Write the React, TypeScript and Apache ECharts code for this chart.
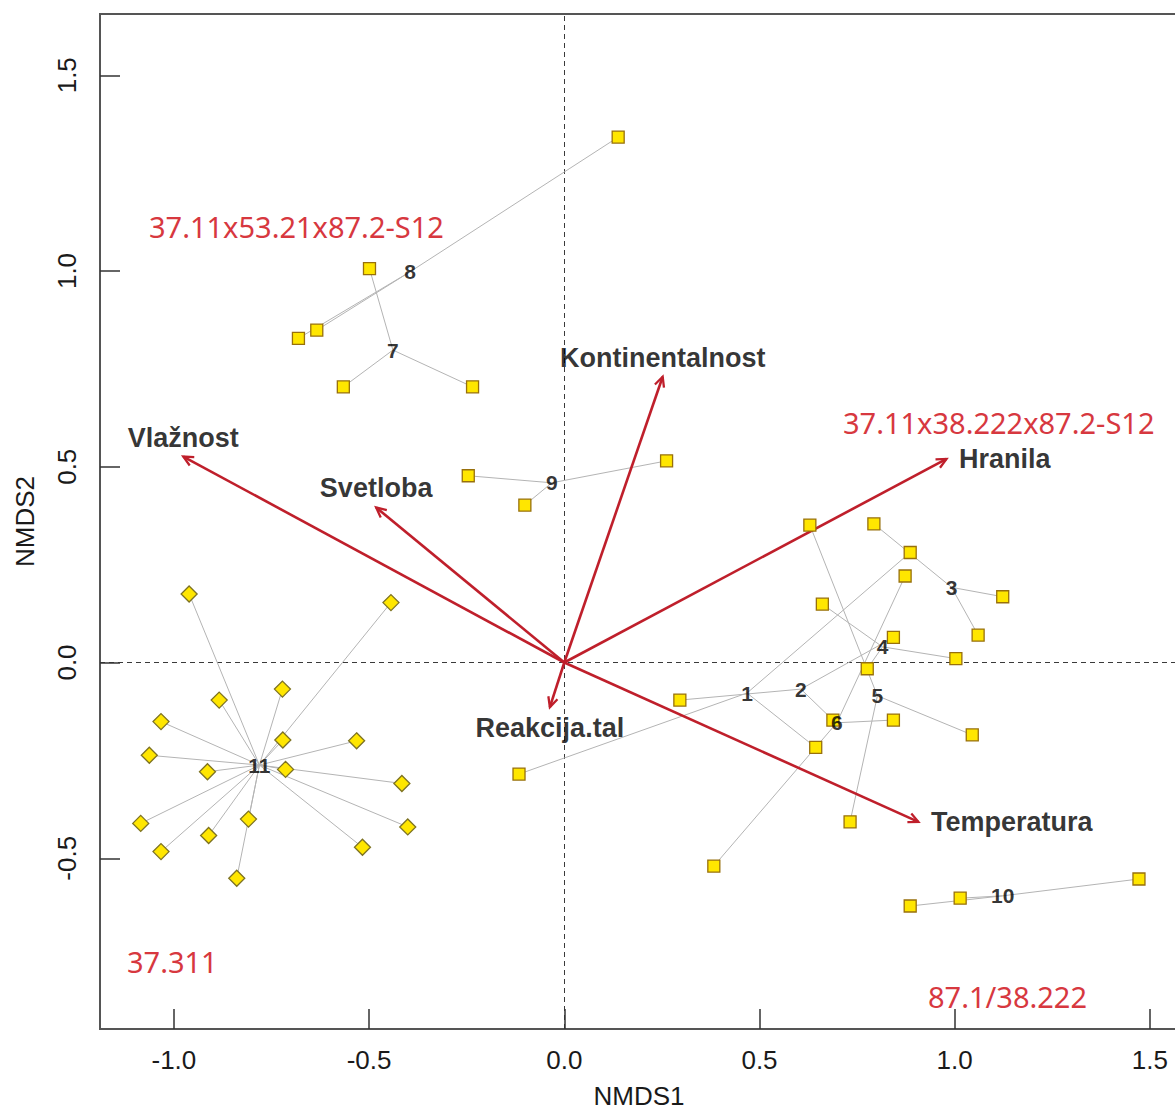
import React, { useEffect, useRef } from "react";
import * as echarts from "echarts";

// ---- data ----
const xTicks = [-1.0, -0.5, 0.0, 0.5, 1.0, 1.5];
const yTicks = [-0.5, 0.0, 0.5, 1.0, 1.5];

// group centroids (ordispider labels)
const groupNames = ["1", "2", "3", "4", "5", "6", "7", "8", "9", "10", "11"];
const centroidX = [0.468, 0.606, 0.992, 0.815, 0.802, 0.698, -0.439, -0.395, -0.032, 1.123, -0.781];
const centroidY = [-0.078, -0.068, 0.192, 0.04, -0.085, -0.154, 0.798, 0.998, 0.459, -0.596, -0.262];

// sites drawn as squares (group index into groupNames)
const squareGroup = [0, 0, 0, 1, 1, 1, 2, 2, 2, 3, 3, 3, 4, 4, 4, 5, 5, 5, 6, 6, 6, 7, 7, 7, 8, 8, 8, 9, 9, 9];
const squareX = [
  0.886, -0.116, 0.644,
  0.296, 0.688, 0.843,
  0.793, 1.123, 1.06,
  0.661, 1.003, 0.776,
  0.629, 1.045, 0.732,
  0.873, 0.843, 0.383,
  -0.499, -0.566, -0.235,
  0.138, -0.634, -0.681,
  -0.246, -0.101, 0.262,
  0.886, 1.014, 1.472,
];
const squareY = [
  0.281, -0.285, -0.217,
  -0.096, -0.147, 0.064,
  0.354, 0.168, 0.07,
  0.149, 0.01, -0.016,
  0.351, -0.185, -0.407,
  0.221, -0.147, -0.52,
  1.006, 0.704, 0.704,
  1.342, 0.849, 0.828,
  0.477, 0.402, 0.515,
  -0.622, -0.602, -0.553,
];

// sites drawn as diamonds (all group "11")
const diamondGroup = 10;
const diamondX = [
  -0.961, -0.444, -0.722, -0.884, -1.033, -0.721, -0.532, -1.063, -0.914,
  -0.714, -0.416, -1.085, -0.809, -0.911, -0.401, -1.033, -0.517, -0.839,
];
const diamondY = [
  0.175, 0.153, -0.068, -0.096, -0.151, -0.198, -0.2, -0.237, -0.279,
  -0.273, -0.309, -0.411, -0.4, -0.442, -0.42, -0.483, -0.472, -0.551,
];

// environmental vectors (envfit)
const envNames = ["Vlažnost", "Svetloba", "Kontinentalnost", "Hranila", "Temperatura", "Reakcija.tal"];
const envX = [-0.976, -0.482, 0.252, 0.979, 0.907, -0.037];
const envY = [0.526, 0.396, 0.73, 0.52, -0.407, -0.114];
const envLabelSide = ["top", "top", "top", "right", "right", "bottom"];

// red annotations
const annotations = ["37.11x53.21x87.2-S12", "37.11x38.222x87.2-S12", "37.311", "87.1/38.222"];

// ---- styles ----
const ARROW = "#bf1f2b";
const RED_TXT = "#d7383f";
const AX_FONT = "'Liberation Sans', Arial, sans-serif";

export default function App() {
  const ref = useRef<HTMLDivElement>(null);

  useEffect(() => {
    if (!ref.current) return;
    const chart = echarts.init(ref.current, undefined, { renderer: "svg" });

    const spider: any[] = [];
    squareX.forEach((x, i) => {
      const g = squareGroup[i];
      spider.push({ coords: [[centroidX[g], centroidY[g]], [x, squareY[i]]] });
    });
    diamondX.forEach((x, i) => {
      spider.push({ coords: [[centroidX[diamondGroup], centroidY[diamondGroup]], [x, diamondY[i]]] });
    });

    const labelDist: Record<string, number> = { top: 5, bottom: 7, right: 12 };

    const annoStyle = { fill: RED_TXT, fontSize: 29, fontFamily: "'Noto Sans', sans-serif", verticalAlign: "middle", align: "left" };

    const option: any = {
      animation: false,
      backgroundColor: "#ffffff",
      grid: {
        left: 100,
        top: 14,
        right: -3,
        bottom: 81,
        show: true,
        containLabel: false,
        outerBoundsMode: "none",
        borderColor: "#555",
        borderWidth: 2,
        backgroundColor: "transparent",
      },
      xAxis: {
        type: "value",
        min: -1.18929,
        max: 1.57198,
        axisLine: { show: false, onZero: false },
        axisTick: {
          show: true,
          inside: true,
          length: 20,
          customValues: xTicks,
          lineStyle: { color: "#333", width: 1.5 },
        },
        axisLabel: {
          customValues: xTicks,
          formatter: (v: number) => v.toFixed(1),
          fontSize: 26,
          color: "#1a1a1a",
          fontFamily: AX_FONT,
          margin: 18,
        },
        splitLine: { show: false },
        name: "NMDS1",
        nameLocation: "middle",
        nameGap: 54,
        nameTextStyle: { fontSize: 26, color: "#1a1a1a", fontFamily: AX_FONT },
      },
      yAxis: {
        type: "value",
        min: -0.93614,
        max: 1.65645,
        axisLine: { show: false, onZero: false },
        axisTick: {
          show: true,
          inside: true,
          length: 20,
          customValues: yTicks,
          lineStyle: { color: "#333", width: 1.5 },
        },
        axisLabel: {
          customValues: yTicks,
          formatter: (v: number) => v.toFixed(1),
          fontSize: 26,
          color: "#1a1a1a",
          fontFamily: AX_FONT,
          rotate: 90,
          margin: 20,
        },
        splitLine: { show: false },
        name: "NMDS2",
        nameLocation: "middle",
        nameGap: 62,
        nameTextStyle: { fontSize: 26, color: "#1a1a1a", fontFamily: AX_FONT },
      },
      series: [
        {
          type: "lines",
          coordinateSystem: "cartesian2d",
          z: 1,
          silent: true,
          lineStyle: { color: "#b4b4b4", width: 1, opacity: 1 },
          data: spider,
          markLine: {
            silent: true,
            z: 0,
            symbol: ["none", "none"],
            label: { show: false },
            lineStyle: { color: "#3a3a3a", width: 1, type: [5, 4] },
            data: [{ xAxis: 0 }, { yAxis: 0 }],
          },
        },
        {
          type: "custom",
          z: 2,
          silent: true,
          data: envX.map((x, i) => [x, envY[i]]),
          renderItem: (_p: any, api: any) => {
            const p0 = api.coord([0, 0]);
            const p1 = api.coord([api.value(0), api.value(1)]);
            const ang = Math.atan2(p1[1] - p0[1], p1[0] - p0[0]);
            const L = 11;
            const a = Math.PI / 7;
            const h1 = [p1[0] - L * Math.cos(ang - a), p1[1] - L * Math.sin(ang - a)];
            const h2 = [p1[0] - L * Math.cos(ang + a), p1[1] - L * Math.sin(ang + a)];
            return {
              type: "group",
              children: [
                {
                  type: "line",
                  shape: { x1: p0[0], y1: p0[1], x2: p1[0], y2: p1[1] },
                  style: { stroke: ARROW, lineWidth: 2.6 },
                },
                {
                  type: "polyline",
                  shape: { points: [h1, p1, h2] },
                  style: { stroke: ARROW, lineWidth: 2.3, fill: null },
                },
              ],
            };
          },
        },
        {
          type: "scatter",
          z: 3,
          silent: true,
          symbol: "rect",
          symbolSize: 12,
          itemStyle: { color: "#ffe600", borderColor: "#98700c", borderWidth: 1.3, opacity: 1 },
          data: squareX.map((x, i) => [x, squareY[i]]),
        },
        {
          type: "scatter",
          z: 3,
          silent: true,
          symbol: "diamond",
          symbolSize: 16,
          itemStyle: { color: "#ffe600", borderColor: "#7d7222", borderWidth: 1.3, opacity: 1 },
          data: diamondX.map((x, i) => [x, diamondY[i]]),
        },
        {
          type: "scatter",
          z: 4,
          silent: true,
          symbolSize: 1,
          itemStyle: { color: "rgba(0,0,0,0)" },
          label: {
            show: true,
            position: "inside",
            formatter: (p: any) => p.name,
            fontSize: 21,
            fontWeight: "bold",
            color: "#000",
            fontFamily: AX_FONT,
          },
          data: groupNames.map((n, i) => ({ name: n, value: [centroidX[i], centroidY[i]] })),
        },
        {
          type: "scatter",
          z: 4,
          silent: true,
          symbolSize: 1,
          itemStyle: { color: "rgba(0,0,0,0)" },
          label: {
            show: true,
            formatter: (p: any) => p.name,
            fontSize: 27,
            lineHeight: 27,
            fontWeight: "bold",
            color: "#000",
            fontFamily: AX_FONT,
          },
          data: envNames.map((n, i) => ({
            name: n,
            value: [envX[i], envY[i]],
            label: {
              position: envLabelSide[i],
              distance: labelDist[envLabelSide[i]],
            },
          })),
        },
      ],
      graphic: [
        { type: "text", x: 149, y: 226, style: { ...annoStyle, text: annotations[0] } },
        { type: "text", x: 843, y: 422, style: { ...annoStyle, text: annotations[1] } },
        { type: "text", x: 127, y: 961, style: { ...annoStyle, text: annotations[2] } },
        { type: "text", x: 928, y: 996, style: { ...annoStyle, text: annotations[3] } },
      ],
    };

    chart.setOption(option);
    return () => chart.dispose();
  }, []);

  return (
    <div
      ref={ref}
      style={{ position: "fixed", left: 0, top: 0, width: 1175, height: 1110, background: "#fff" }}
    />
  );
}
